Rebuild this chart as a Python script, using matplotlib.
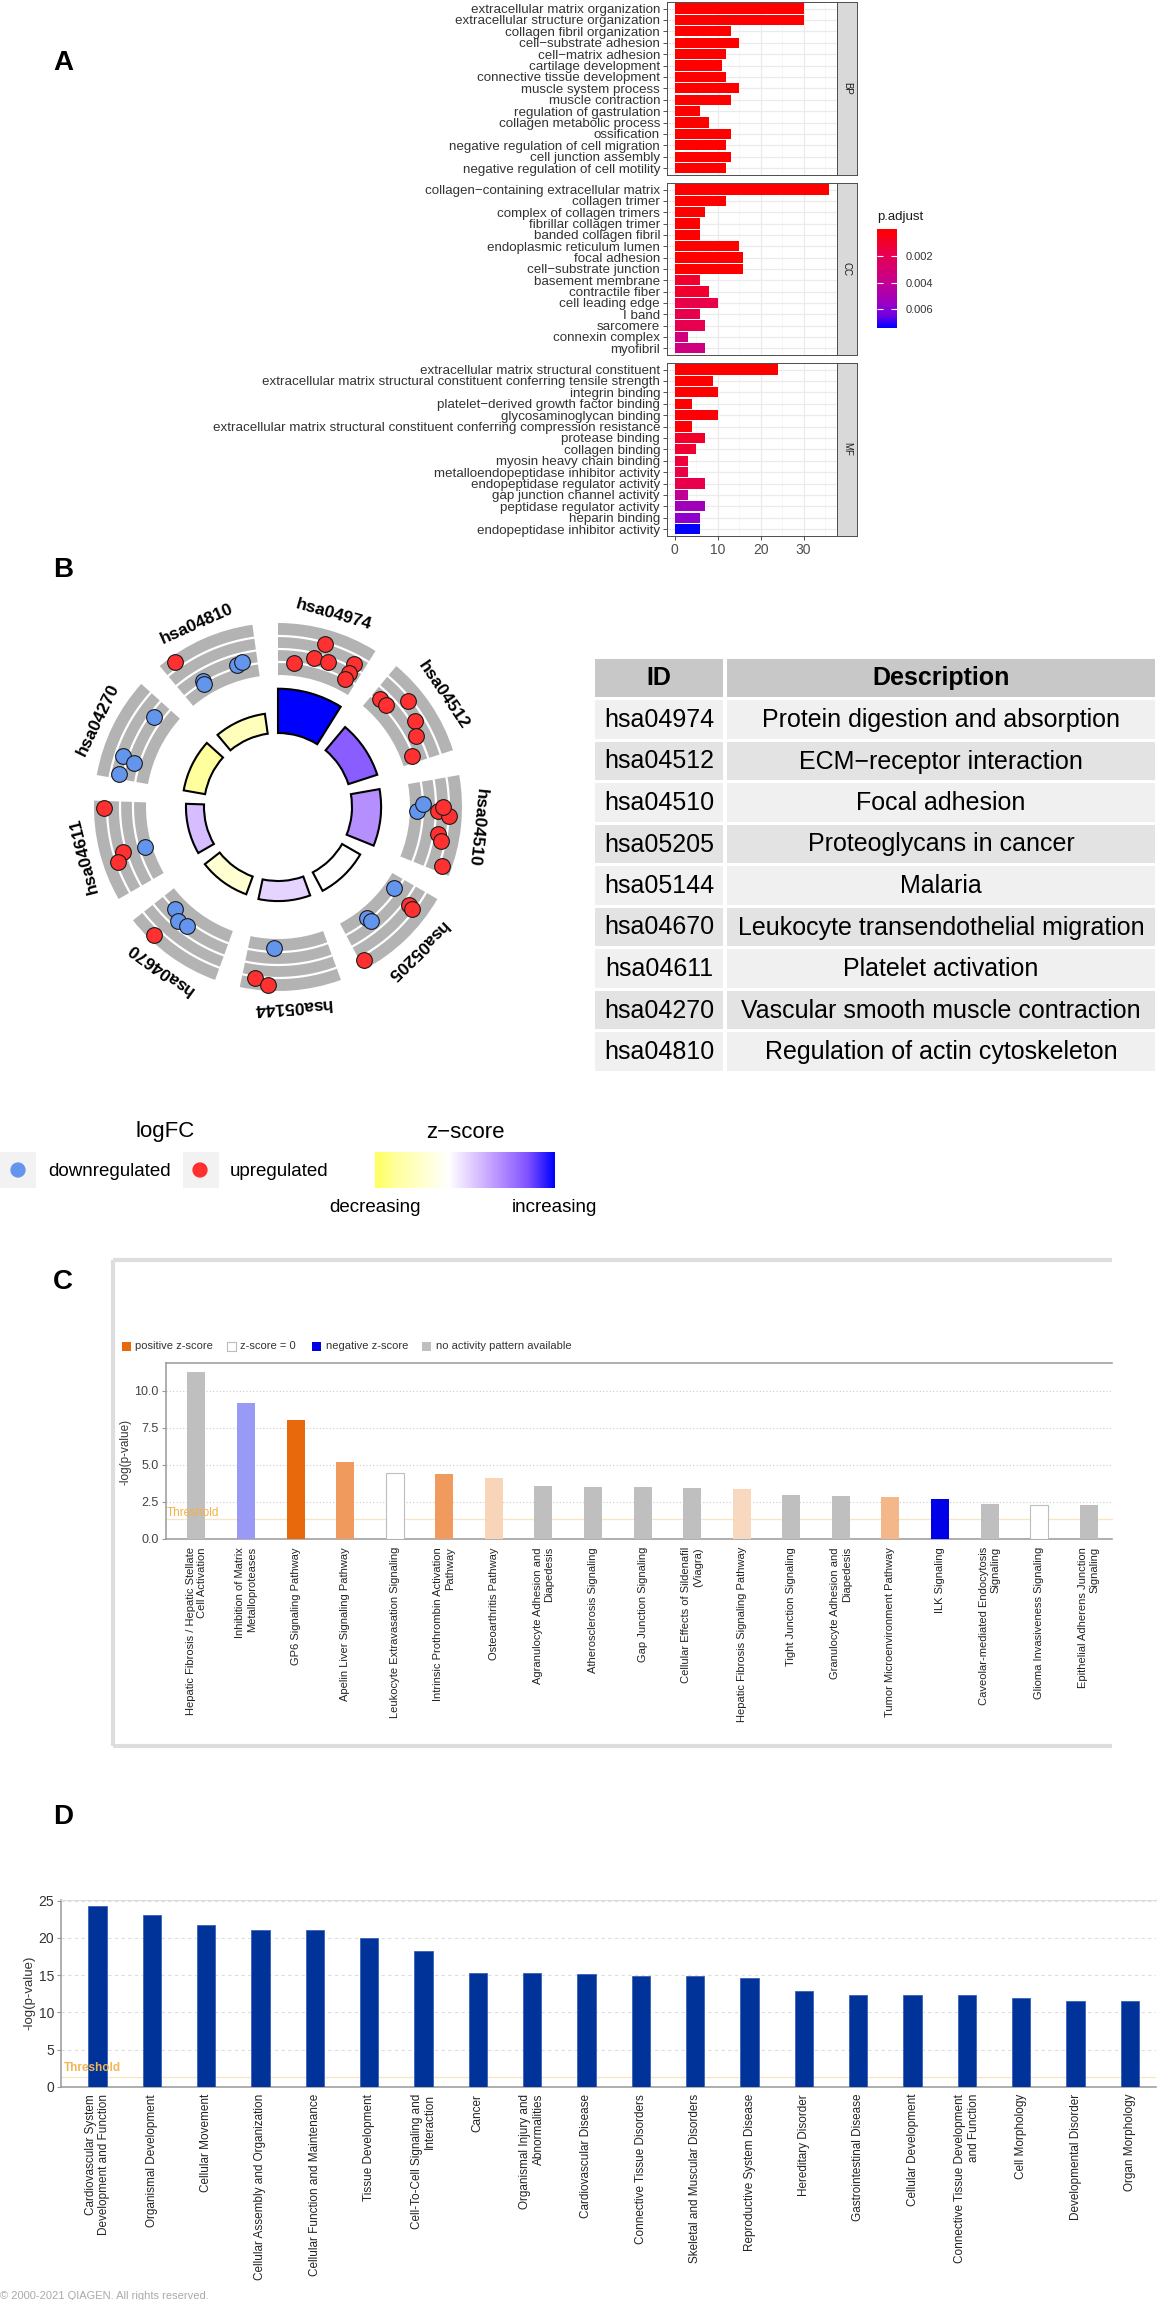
import numpy as np
import matplotlib
matplotlib.use('Agg')
import matplotlib.pyplot as plt
from matplotlib.patches import Wedge, Rectangle
from matplotlib.colors import LinearSegmentedColormap, Normalize

plt.rcParams['font.family'] = ['Liberation Sans', 'DejaVu Sans']
M = '\u2212'

####################################################################
## Data
####################################################################

# panel A : GO enrichment (count + adjusted p)
bp_terms = ['extracellular matrix organization', 'extracellular structure organization',
            'collagen fibril organization', f'cell{M}substrate adhesion', f'cell{M}matrix adhesion',
            'cartilage development', 'connective tissue development', 'muscle system process',
            'muscle contraction', 'regulation of gastrulation', 'collagen metabolic process',
            'ossification', 'negative regulation of cell migration', 'cell junction assembly',
            'negative regulation of cell motility']
bp_count = [30, 30, 13, 15, 12, 11, 12, 15, 13, 6, 8, 13, 12, 13, 12]
bp_padj = [1e-13, 1e-13, 2e-9, 3e-9, 8e-8, 1e-7, 1e-7, 2e-7, 3e-7, 4e-7, 6e-7, 8e-7, 9e-7, 1e-6, 1e-6]

cc_terms = [f'collagen{M}containing extracellular matrix', 'collagen trimer', 'complex of collagen trimers',
            'fibrillar collagen trimer', 'banded collagen fibril', 'endoplasmic reticulum lumen',
            'focal adhesion', f'cell{M}substrate junction', 'basement membrane', 'contractile fiber',
            'cell leading edge', 'I band', 'sarcomere', 'connexin complex', 'myofibril']
cc_count = [36, 12, 7, 6, 6, 15, 16, 16, 6, 8, 10, 6, 7, 3, 7]
cc_padj = [1e-20, 2e-7, 3e-6, 1e-5, 1e-5, 2e-5, 3e-5, 3e-5, 0.0011, 0.0011, 0.0017, 0.0018, 0.0019,
           0.0033, 0.0034]

mf_terms = ['extracellular matrix structural constituent',
            'extracellular matrix structural constituent conferring tensile strength',
            'integrin binding', f'platelet{M}derived growth factor binding', 'glycosaminoglycan binding',
            'extracellular matrix structural constituent conferring compression resistance',
            'protease binding', 'collagen binding', 'myosin heavy chain binding',
            'metalloendopeptidase inhibitor activity', 'endopeptidase regulator activity',
            'gap junction channel activity', 'peptidase regulator activity', 'heparin binding',
            'endopeptidase inhibitor activity']
mf_count = [24, 9, 10, 4, 10, 4, 7, 5, 3, 3, 7, 3, 7, 6, 6]
mf_padj = [1e-15, 2e-6, 1e-5, 6e-5, 2e-4, 2e-4, 0.0010, 0.0012, 0.0014, 0.0016, 0.0018, 0.0041,
           0.0053, 0.0058, 0.0074]

# panel B : KEGG circle
kegg_ids = ['hsa04974', 'hsa04512', 'hsa04510', 'hsa05205', 'hsa05144',
            'hsa04670', 'hsa04611', 'hsa04270', 'hsa04810']
kegg_desc = ['Protein digestion and absorption', f'ECM{M}receptor interaction', 'Focal adhesion',
             'Proteoglycans in cancer', 'Malaria', 'Leukocyte transendothelial migration',
             'Platelet activation', 'Vascular smooth muscle contraction', 'Regulation of actin cytoskeleton']
kegg_neglogp = [10.8, 7.4, 7.1, 5.1, 4.9, 4.6, 4.4, 5.3, 4.9]
kegg_zscore = [3.0, 2.1, 1.45, 0.0, 0.55, -0.7, 0.85, -1.5, -1.05]
# genes of each term : position inside the sector, level in the logFC track, up (1) / down (0)
gene_pos = [[0.2, 0.43, 0.5, 0.6, 0.875, 0.875, 0.86],
            [0.11, 0.21, 0.34, 0.56, 0.71, 0.91],
            [0.36, 0.275, 0.36, 0.41, 0.31, 0.61, 0.675, 0.93],
            [0.16, 0.66, 0.65, 0.21, 0.225, 0.96],
            [0.675, 0.86, 0.725],
            [0.79, 0.66, 0.54, 0.75],
            [0.93, 0.41, 0.43, 0.34],
            [0.81, 0.26, 0.22, 0.06],
            [0.14, 0.29, 0.28, 0.75, 0.82]]
gene_level = [[0.24, 0.41, 0.72, 0.41, 0.58, 0.37, 0.23],
              [0.32, 0.31, 0.68, 0.56, 0.45, 0.22],
              [0.14, 0.25, 0.54, 0.75, 0.64, 0.58, 0.67, 0.82],
              [0.18, 0.20, 0.29, 0.60, 0.69, 0.84],
              [0.17, 0.78, 0.89],
              [0.25, 0.38, 0.34, 0.89],
              [0.80, 0.13, 0.56, 0.72],
              [0.40, 0.61, 0.35, 0.58],
              [0.88, 0.29, 0.22, 0.30, 0.34]]
gene_up = [[1, 1, 1, 1, 1, 1, 1],
           [1, 1, 1, 1, 1, 1],
           [0, 0, 1, 1, 1, 1, 1, 1],
           [0, 0, 0, 1, 1, 1],
           [0, 1, 1],
           [0, 0, 0, 1],
           [1, 0, 1, 1],
           [0, 0, 0, 0],
           [1, 0, 0, 0, 0]]

# panel C : IPA canonical pathways
c_pathways = ['Hepatic Fibrosis / Hepatic Stellate\nCell Activation', 'Inhibition of Matrix\nMetalloproteases',
              'GP6 Signaling Pathway', 'Apelin Liver Signaling Pathway', 'Leukocyte Extravasation Signaling',
              'Intrinsic Prothrombin Activation\nPathway', 'Osteoarthritis Pathway',
              'Agranulocyte Adhesion and\nDiapedesis', 'Atherosclerosis Signaling', 'Gap Junction Signaling',
              'Cellular Effects of Sildenafil\n(Viagra)', 'Hepatic Fibrosis Signaling Pathway',
              'Tight Junction Signaling', 'Granulocyte Adhesion and\nDiapedesis',
              'Tumor Microenvironment Pathway', 'ILK Signaling', 'Caveolar-mediated Endocytosis\nSignaling',
              'Glioma Invasiveness Signaling', 'Epithelial Adherens Junction\nSignaling']
c_values = [11.26, 9.19, 8.01, 5.2, 4.43, 4.36, 4.1, 3.55, 3.5, 3.47, 3.44, 3.35, 2.93, 2.88, 2.83,
            2.65, 2.33, 2.3, 2.26]
c_zscore = [None, -1.0, 2.5, 1.67, 0, 1.67, 0.72, None, None, None, None, 0.65, None, None, 1.2,
            -2.5, None, 0, None]

# panel D : IPA diseases and functions
d_categories = ['Cardiovascular System\nDevelopment and Function', 'Organismal Development',
                'Cellular Movement', 'Cellular Assembly and Organization',
                'Cellular Function and Maintenance', 'Tissue Development',
                'Cell-To-Cell Signaling and\nInteraction', 'Cancer', 'Organismal Injury and\nAbnormalities',
                'Cardiovascular Disease', 'Connective Tissue Disorders', 'Skeletal and Muscular Disorders',
                'Reproductive System Disease', 'Hereditary Disorder', 'Gastrointestinal Disease',
                'Cellular Development', 'Connective Tissue Development\nand Function', 'Cell Morphology',
                'Developmental Disorder', 'Organ Morphology']
d_values = [24.3, 23.1, 21.7, 21.1, 21.1, 20.0, 18.2, 15.35, 15.35, 15.2, 14.85, 14.85, 14.6,
            12.9, 12.4, 12.35, 12.35, 11.95, 11.6, 11.6]

####################################################################
## Figure
####################################################################

W, H = 1159, 2300
fig = plt.figure(figsize=(W / 100, H / 100), dpi=100)

ov = fig.add_axes([0, 0, 1, 1])
ov.set_xlim(0, W)
ov.set_ylim(H, 0)
ov.axis('off')


def px_axes(x0, y0, x1, y1):
    return fig.add_axes([x0 / W, 1 - y1 / H, (x1 - x0) / W, (y1 - y0) / H])


for letter, x, y in [('A', 63, 63), ('B', 63, 570), ('C', 63, 1282), ('D', 63, 1817)]:
    ov.text(x, y, letter, fontsize=20, fontweight='bold', ha='center', va='center')

####################################################################
## A
####################################################################

padj_max = 0.0074
padj_cmap = LinearSegmentedColormap.from_list('padj', [(0, '#FF0000'), (0.25, '#E8004F'), (0.5, '#CA0088'),
                                                       (0.75, '#9B00C3'), (0.875, '#7300E1'), (1, '#0000FF')])
padj_norm = Normalize(0, padj_max)

facets = [('BP', bp_terms, bp_count, bp_padj, 1.7, 175),
          ('CC', cc_terms, cc_count, cc_padj, 182.7, 355),
          ('MF', mf_terms, mf_count, mf_padj, 362.7, 536)]
for name, terms, counts, padj, y0, y1 in facets:
    ax = px_axes(667, y0, 837, y1)
    yy = np.arange(len(terms))
    ax.barh(yy, counts, height=0.9, color=padj_cmap(padj_norm(np.array(padj))), zorder=2)
    ax.set_ylim(len(terms) - 0.4, -0.6)
    ax.set_xlim(-1.8, 37.8)
    ax.set_yticks(yy)
    ax.set_yticklabels(terms, fontsize=9.6, color='#333333')
    ax.set_xticks([0, 10, 20, 30])
    ax.set_xticks([5, 15, 25, 35], minor=True)
    ax.set_axisbelow(True)
    ax.grid(which='major', color='#EBEBEB', lw=0.9)
    ax.grid(which='minor', axis='x', color='#F4F4F4', lw=0.5)
    ax.tick_params(axis='y', length=3, width=0.6, color='#333333', pad=2)
    ax.tick_params(axis='x', which='minor', length=0)
    if name == 'MF':
        ax.tick_params(axis='x', length=3, width=0.6, color='#333333', labelsize=10, labelcolor='#4D4D4D', pad=2)
    else:
        ax.tick_params(axis='x', length=0, labelbottom=False)
    for s in ax.spines.values():
        s.set_color('#4D4D4D')
        s.set_linewidth(0.7)
    st = px_axes(837, y0, 857, y1)
    st.set_facecolor('#D9D9D9')
    st.set_xticks([])
    st.set_yticks([])
    for s in st.spines.values():
        s.set_color('#4D4D4D')
        s.set_linewidth(0.7)
    st.text(0.5, 0.5, name, rotation=-90, ha='center', va='center', fontsize=7, color='#1A1A1A',
            transform=st.transAxes)

cb = px_axes(877, 229, 897, 328)
grad = np.linspace(0, padj_max, 200)[:, None]
cb.imshow(grad, cmap=padj_cmap, norm=padj_norm, aspect='auto', extent=[0, 1, padj_max, 0], origin='upper')
cb.set_xticks([])
cb.set_yticks([0.002, 0.004, 0.006])
cb.set_yticklabels(['0.002', '0.004', '0.006'])
cb.tick_params(axis='y', left=True, right=True, direction='in', color='white', length=4, width=0.8,
               labelleft=False, labelright=True, labelsize=8, labelcolor='#333333', pad=6)
for s in cb.spines.values():
    s.set_visible(False)
ov.text(877, 217, 'p.adjust', fontsize=9.5, ha='left', va='center', color='#1A1A1A')

####################################################################
## B : circle
####################################################################

z_cmap = LinearSegmentedColormap.from_list('z', [(0, '#FFFF00'), (0.25, '#FFFF9E'), (0.5, '#FFFFFF'),
                                                 (0.625, '#DCC5FF'), (0.75, '#B38BFF'),
                                                 (0.875, '#7F52FF'), (1, '#0000FF')])


def z_frac(z):
    return 0.5 + np.asarray(z) / 6.0


axb = px_axes(58, 587, 498, 1027)
axb.set_xlim(-220, 220)
axb.set_ylim(-220, 220)
axb.axis('off')

r_in, r_track0, r_track1 = 74, 132, 184
for i, term in enumerate(kegg_ids):
    start = 90 - 40 * i
    end = start - 32
    axb.add_patch(Wedge((0, 0), r_track1, end, start, width=r_track1 - r_track0,
                        facecolor='#B3B3B3', edgecolor='none'))
    th = np.radians(np.linspace(end, start, 80))
    for lv in (0.25, 0.5, 0.75):
        r = r_track0 + lv * (r_track1 - r_track0)
        axb.plot(r * np.cos(th), r * np.sin(th), color='white', lw=1.6)
    h = 4.1 * kegg_neglogp[i]
    axb.add_patch(Wedge((0, 0), r_in + h, end, start, width=h, facecolor=z_cmap(z_frac(kegg_zscore[i])),
                        edgecolor='black', lw=1.5))
    for g, lv, up in zip(gene_pos[i], gene_level[i], gene_up[i]):
        a = np.radians(start - g * 32)
        r = r_track0 + lv * (r_track1 - r_track0)
        axb.scatter(r * np.cos(a), r * np.sin(a), s=128, color='#FF3030' if up else '#6495ED',
                    edgecolor='#1A1A1A', lw=0.8, zorder=3)
    mid = start - 16
    axb.text(200 * np.cos(np.radians(mid)), 200 * np.sin(np.radians(mid)), term, rotation=mid - 90,
             rotation_mode='anchor', ha='center', va='center', fontsize=12.5, fontweight='bold')

# table
ov.add_patch(Rectangle((595, 659), 128, 38, facecolor='#C8C8C8', edgecolor='none'))
ov.add_patch(Rectangle((727, 659), 428, 38, facecolor='#C8C8C8', edgecolor='none'))
ov.text(659, 678, 'ID', fontsize=18, fontweight='bold', ha='center', va='center')
ov.text(941, 678, 'Description', fontsize=18, fontweight='bold', ha='center', va='center')
for k, (kid, desc) in enumerate(zip(kegg_ids, kegg_desc)):
    top = 700 + 41.5 * k
    col = '#F0F0F0' if k % 2 == 0 else '#E3E3E3'
    ov.add_patch(Rectangle((595, top), 128, 38.5, facecolor=col, edgecolor='none'))
    ov.add_patch(Rectangle((727, top), 428, 38.5, facecolor=col, edgecolor='none'))
    ov.text(659, top + 20, kid, fontsize=18, ha='center', va='center')
    ov.text(941, top + 20, desc, fontsize=18, ha='center', va='center')

# legends of the circle
ov.text(165, 1132, 'logFC', fontsize=16, ha='center', va='center')
ov.add_patch(Rectangle((0, 1152), 36, 36, facecolor='#F2F2F2', edgecolor='none'))
ov.add_patch(Rectangle((182.5, 1152), 36, 36, facecolor='#F2F2F2', edgecolor='none'))
ov.scatter([18, 200], [1170, 1170], s=100, color=['#6495ED', '#FF3030'], zorder=3)
ov.text(48, 1171, 'downregulated', fontsize=13.5, ha='left', va='center')
ov.text(230, 1171, 'upregulated', fontsize=13.5, ha='left', va='center')
ov.text(465, 1132, f'z{M}score', fontsize=16, ha='center', va='center')
zz = np.linspace(-2.1, 3.0, 300)[None, :]
ov.imshow(z_cmap(z_frac(zz)), aspect='auto', extent=[375, 555, 1188, 1152], zorder=2)
ov.text(375, 1208, 'decreasing', fontsize=13.5, ha='center', va='center')
ov.text(554, 1208, 'increasing', fontsize=13.5, ha='center', va='center')
ov.set_xlim(0, W)
ov.set_ylim(H, 0)

####################################################################
## C
####################################################################

for xs, ys in [([113, 113], [1260, 1746]), ([113, 1112], [1260, 1260]), ([113, 1112], [1746, 1746])]:
    ov.plot(xs, ys, color='#DDDDDD', lw=3, solid_capstyle='butt')

leg_items = [('positive z-score', '#E8690A', 'none', 121.7), ('z-score = 0', 'white', '#BBBBBB', 227),
             ('negative z-score', '#0000E8', 'none', 312), ('no activity pattern available', '#BFBFBF', 'none', 422)]
for lab, fc, ec, x in leg_items:
    ov.add_patch(Rectangle((x, 1341.5), 9, 9, facecolor=fc, edgecolor=ec, lw=0.8))
    ov.text(x + 13.5, 1346, lab, fontsize=8, color='#333333', ha='left', va='center')


def ipa_color(z):
    if z is None:
        return '#BFBFBF'
    if z == 0:
        return 'white'
    p = min(abs(z) / 2.5, 1)
    base = (232, 105, 12) if z > 0 else (0, 0, 232)
    return tuple((255 - p * (255 - b)) / 255 for b in base)


axc = px_axes(165.7, 1363, 1112.5, 1538.7)
xc = np.arange(len(c_values))
axc.bar(xc, c_values, width=0.363, color=[ipa_color(z) for z in c_zscore],
        edgecolor=['#BDBDBD' if z == 0 else 'none' for z in c_zscore], lw=0.8, zorder=3)
axc.set_xlim(-0.62, 18.48)
axc.set_ylim(0, 11.87)
axc.set_yticks([0, 2.5, 5, 7.5, 10])
axc.set_yticklabels(['0.0', '2.5', '5.0', '7.5', '10.0'])
axc.yaxis.grid(True, color='#CCCCCC', lw=0.8, linestyle=(0, (1, 2)))
axc.set_axisbelow(True)
axc.axhline(1.33, color='#FCE3C2', lw=0.9, zorder=2)
axc.text(-0.6, 1.75, 'Threshold', color='#F5B041', fontsize=8.5, ha='left', va='center')
axc.set_xticks(xc)
axc.set_xticklabels(c_pathways, rotation=90, fontsize=8, multialignment='right', color='#222222')
axc.tick_params(axis='x', length=0, pad=6)
axc.tick_params(axis='y', length=3, color='#999999', labelsize=9, labelcolor='#444444', pad=2)
axc.spines['right'].set_visible(False)
for s in ['left', 'bottom', 'top']:
    axc.spines[s].set_color('#999999')
    axc.spines[s].set_linewidth(1.1)
ov.text(126, 1452, '-log(p-value)', rotation=90, fontsize=8.5, color='#333333', ha='center', va='center')

####################################################################
## D
####################################################################

axd = px_axes(61, 1900, 1156, 2087)
xd = np.arange(len(d_values))
axd.bar(xd, d_values, width=0.34, color='#003399', edgecolor='#3A62B8', lw=0.6, zorder=3)
axd.set_xlim(-0.67, 19.48)
axd.set_ylim(0, 25.1)
axd.set_yticks([0, 5, 10, 15, 20, 25])
axd.yaxis.grid(True, color='#DDDDDD', lw=0.8, linestyle=(0, (3, 3)))
axd.set_axisbelow(True)
axd.axhline(1.3, color='#FCE3C2', lw=0.9, zorder=2)
axd.text(-0.62, 2.5, 'Threshold', color='#F2B654', fontsize=8.5, fontweight='bold', ha='left', va='center')
axd.set_xticks(xd)
axd.set_xticklabels(d_categories, rotation=90, fontsize=8.5, multialignment='right', color='#222222')
axd.tick_params(axis='x', length=0, pad=5)
axd.tick_params(axis='y', length=3, color='#999999', labelsize=10, labelcolor='#333333', pad=2)
axd.spines['right'].set_visible(False)
axd.spines['top'].set_color('#DDDDDD')
for s in ['left', 'bottom']:
    axd.spines[s].set_color('#999999')
    axd.spines[s].set_linewidth(1.1)
ov.text(29, 1993, '-log(p-value)', rotation=90, fontsize=9.5, color='#333333', ha='center', va='center')
ov.text(0, 2291, '\u00a9 2000-2021 QIAGEN. All rights reserved.', fontsize=8, color='#AAAAAA',
        ha='left', va='top')

fig.savefig('out.png', dpi=100)
